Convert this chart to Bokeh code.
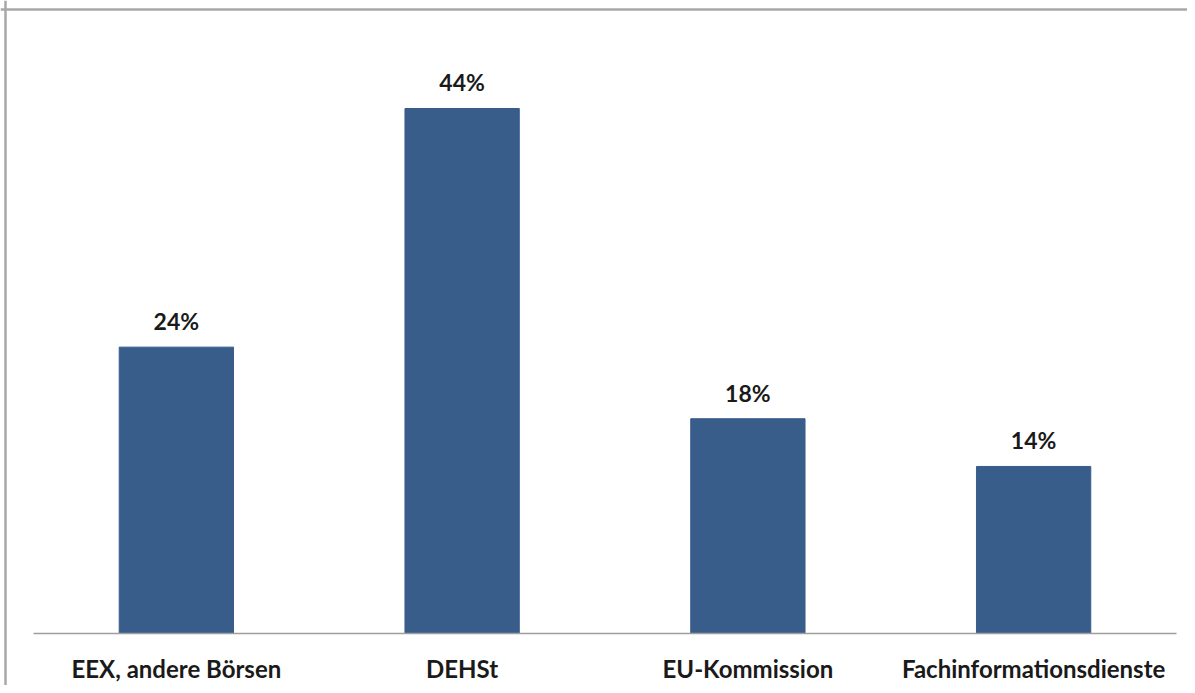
from bokeh.plotting import figure
from bokeh.models import Range1d, Span, ColumnDataSource
from bokeh.core.properties import value
from bokeh.embed import file_html
from bokeh.resources import INLINE

categories = ["EEX, andere Börsen", "DEHSt", "EU-Kommission", "Fachinformationsdienste"]
shares = [24, 44, 18, 14]
share_labels = ["24%", "44%", "18%", "14%"]

xpos = [i + 0.5 for i in range(len(categories))]
src = ColumnDataSource(dict(x=xpos, top=shares, lab=share_labels, cat=categories,
                            zero=[0] * len(categories)))

p = figure(width=1187, height=685, output_backend="svg", toolbar_location=None,
           x_range=Range1d(-0.1155, 4.0385), y_range=Range1d(-4.358, 53.05),
           min_border=0, min_border_left=0, min_border_right=0,
           min_border_top=0, min_border_bottom=0)
p.axis.visible = False
p.grid.visible = False
p.outline_line_color = None
p.background_fill_color = "white"
p.border_fill_color = "white"

# frame edges (top and left visible as in reference)
p.add_layout(Span(location=52.30, dimension="width", line_color="#A8A8A8", line_width=2.5))
p.add_layout(Span(location=-0.098, dimension="height", line_color="#A8A8A8", line_width=2.5))

p.vbar(x="x", top="top", bottom=0, width=0.4, source=src, fill_color="#385D8A",
       line_color="#385D8A")

# baseline
p.segment(x0=[0], x1=[len(categories)], y0=[0], y1=[0], line_color="#9E9E9E", line_width=1.5)

p.text(x="x", y="top", text="lab", source=src, y_offset=-26, text_align="center",
       text_baseline="middle", text_font=value("Lato"), text_font_style="bold",
       text_font_size="23px", text_color="#1A1A1A")
p.text(x="x", y="zero", text="cat", source=src, y_offset=35, text_align="center",
       text_baseline="middle", text_font=value("Lato"), text_font_style="bold",
       text_font_size="24px", text_color="#1A1A1A")

open("out.html", "w").write(file_html(p, INLINE))
